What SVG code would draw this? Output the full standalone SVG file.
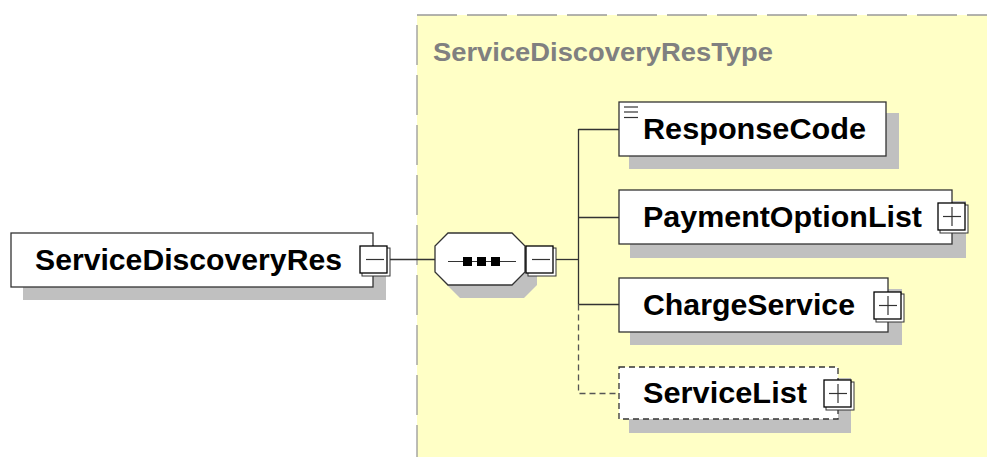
<svg xmlns="http://www.w3.org/2000/svg" width="987" height="457" viewBox="0 0 987 457">
<style>
.shadow{fill:#c0c0c0;stroke:none}
.box{fill:#ffffff;stroke:#333333;stroke-width:1.3}
.dbox{fill:#ffffff;stroke:#333333;stroke-width:1.3;stroke-dasharray:6 4}
.lbl{font-family:"Liberation Sans",Arial,sans-serif;font-weight:bold;font-size:29px;fill:#000000}
.title{font-family:"Liberation Sans",Arial,sans-serif;font-weight:bold;font-size:26px;fill:#808080}
.conn{stroke:#333333;stroke-width:1.3;fill:none}
.dconn{stroke:#555555;stroke-width:1.3;fill:none;stroke-dasharray:6 4}
.pm{fill:#ffffff;stroke:#000000;stroke-width:1.3}
.pms{fill:#ffffff;stroke:#333333;stroke-width:1}
.sym{stroke:#333333;stroke-width:1.2;fill:none}
</style>
<defs>
<g id="minus">
<rect class="pms" x="2" y="2" width="28" height="28"/>
<rect class="pm" x="0" y="0" width="27" height="27"/>
<line class="sym" x1="6" y1="13.5" x2="24" y2="13.5"/>
</g>
<g id="plus">
<rect class="pms" x="2" y="2" width="28" height="28"/>
<rect class="pm" x="0" y="0" width="27" height="27"/>
<line class="sym" x1="5" y1="13.5" x2="23" y2="13.5"/>
<line class="sym" x1="14" y1="4" x2="14" y2="23"/>
</g>
</defs>
<rect x="0" y="0" width="987" height="457" fill="#ffffff"/>
<g id="type-box">
<rect x="417" y="15" width="575" height="450" fill="#ffffc6" stroke="#999999" stroke-width="1.3" stroke-dasharray="40 10"/>
<text class="title" x="433" y="61" textLength="340" lengthAdjust="spacingAndGlyphs">ServiceDiscoveryResType</text>
</g>
<g id="connectors">
<line class="conn" x1="389" y1="259.5" x2="435" y2="259.5"/>
<line class="conn" x1="555" y1="259.5" x2="578.5" y2="259.5"/>
<line class="conn" x1="578.5" y1="129" x2="578.5" y2="304.5"/>
<line class="conn" x1="578.5" y1="129.5" x2="619" y2="129.5"/>
<line class="conn" x1="578.5" y1="217.5" x2="619" y2="217.5"/>
<line class="conn" x1="578.5" y1="304.5" x2="619" y2="304.5"/>
<polyline class="dconn" points="578.5,304.5 578.5,393.5 619,393.5"/>
</g>
<g id="node-ServiceDiscoveryRes">
<rect class="shadow" x="23" y="246" width="363" height="54"/>
<rect class="box" x="11" y="233" width="362" height="54"/>
<text class="lbl" x="35" y="270" textLength="307" lengthAdjust="spacingAndGlyphs">ServiceDiscoveryRes</text>
<use href="#minus" x="360" y="246"/>
</g>
<g id="node-sequence">
<polygon class="shadow" points="460,246 524,246 537,259 537,285 524,298 460,298 447,285 447,259"/>
<polygon class="box" points="448,233 512,233 525,246 525,272 512,285 448,285 435,272 435,246"/>
<line class="sym" x1="448" y1="261.5" x2="516" y2="261.5"/>
<rect x="463" y="257" width="9" height="9" fill="#000000"/>
<rect x="477" y="257" width="9" height="9" fill="#000000"/>
<rect x="491" y="257" width="9" height="9" fill="#000000"/>
<use href="#minus" x="526" y="246"/>
</g>
<g id="node-ResponseCode">
<rect class="shadow" x="629" y="113" width="270" height="56"/>
<rect class="box" x="619" y="102" width="267" height="54"/>
<line class="sym" x1="624" y1="107" x2="638" y2="107"/>
<line class="sym" x1="624" y1="112" x2="638" y2="112"/>
<line class="sym" x1="624" y1="117.5" x2="638" y2="117.5"/>
<text class="lbl" x="643" y="139" textLength="223" lengthAdjust="spacingAndGlyphs">ResponseCode</text>
</g>
<g id="node-PaymentOptionList">
<rect class="shadow" x="630" y="201" width="336" height="57"/>
<rect class="box" x="619" y="190" width="333" height="54"/>
<text class="lbl" x="643" y="227" textLength="279" lengthAdjust="spacingAndGlyphs">PaymentOptionList</text>
<use href="#plus" x="938" y="203"/>
</g>
<g id="node-ChargeService">
<rect class="shadow" x="630" y="289" width="272" height="56"/>
<rect class="box" x="619" y="278" width="269" height="54"/>
<text class="lbl" x="643" y="315" textLength="212" lengthAdjust="spacingAndGlyphs">ChargeService</text>
<use href="#plus" x="874" y="292"/>
</g>
<g id="node-ServiceList">
<rect class="shadow" x="629" y="378" width="222" height="55"/>
<rect class="dbox" x="619" y="367" width="219" height="52"/>
<text class="lbl" x="643" y="403" textLength="164" lengthAdjust="spacingAndGlyphs">ServiceList</text>
<use href="#plus" x="824" y="380"/>
</g>
</svg>
